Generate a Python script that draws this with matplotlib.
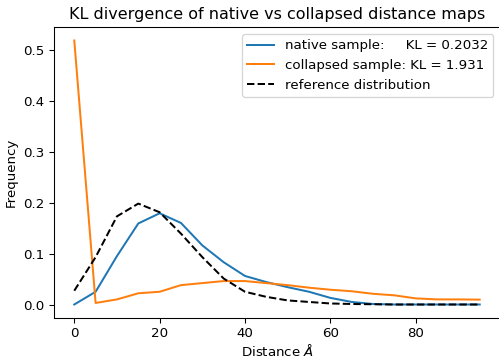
import matplotlib
matplotlib.use("Agg")
import matplotlib.pyplot as plt
import numpy as np

distance = list(range(0, 100, 5))
native = [0.0, 0.025, 0.095, 0.159, 0.179, 0.160, 0.116, 0.083, 0.056, 0.044,
          0.034, 0.025, 0.013, 0.005, 0.001, 0.0, 0.0, 0.0, 0.0, 0.0]
collapsed = [0.518, 0.003, 0.010, 0.022, 0.025, 0.038, 0.042, 0.046, 0.046, 0.042,
             0.038, 0.033, 0.029, 0.026, 0.021, 0.018, 0.012, 0.010, 0.010, 0.0095]
reference = [0.027, 0.093, 0.173, 0.198, 0.181, 0.139, 0.093, 0.051, 0.025, 0.015,
             0.008, 0.005, 0.002, 0.001, 0.0005, 0.0, 0.0, 0.0, 0.0, 0.0]

DPI = 96
W, H = 499, 356
fig = plt.figure(figsize=(W / DPI, H / DPI), dpi=DPI)
ax = fig.add_axes([54 / W, 38.3 / H, 446 / W, 290.4 / H])
ax.plot(distance, native, label="native sample:     KL = 0.2032")
ax.plot(distance, collapsed, label="collapsed sample: KL = 1.931")
ax.plot(distance, reference, "k--", label="reference distribution")
ax.set_title("KL divergence of native vs collapsed distance maps")
ax.set_xlabel(r"Distance $\AA$", labelpad=2)
ax.set_ylabel("Frequency")
ax.legend(loc="upper right")
fig.savefig("out.png", dpi=DPI)
